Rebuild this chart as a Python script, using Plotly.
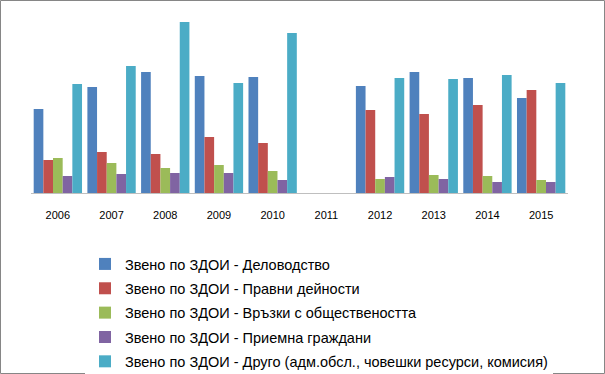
import plotly.graph_objects as go

years = ["2006", "2007", "2008", "2009", "2010", "2011", "2012", "2013", "2014", "2015"]
delovodstvo = [84, 106, 121, 117, 116, None, 107, 121, 115, 95]
pravni = [33, 41, 39, 56, 50, None, 83, 79, 88, 103]
vrazki = [35, 30, 25, 28, 22, None, 14, 18, 17, 13]
priemna = [17, 19, 20, 20, 13, None, 16, 14, 11, 11]
drugo = [109, 127, 171, 110, 160, None, 115, 114, 118, 110]

names = [
    "Звено по ЗДОИ - Деловодство",
    "Звено по ЗДОИ - Правни дейности",
    "Звено по ЗДОИ - Връзки с обществеността",
    "Звено по ЗДОИ - Приемна граждани",
    "Звено по ЗДОИ - Друго (адм.обсл., човешки ресурси, комисия)",
]
colors = ["#4F81BD", "#C0504D", "#9BBB59", "#8064A2", "#4BACC6"]
series = [delovodstvo, pravni, vrazki, priemna, drugo]

W, H = 605, 374
L, R, T, B = 31, 37, 22, 181

fig = go.Figure()
for i, (nm, vals, c) in enumerate(zip(names, series, colors)):
    fig.add_trace(go.Bar(
        x=years, y=vals, name=nm, legendgroup=str(i),
        marker=dict(color=c, line=dict(width=0)),
    ))

fig.update_layout(
    width=W, height=H,
    margin=dict(l=L, r=R, t=T, b=B, autoexpand=False),
    paper_bgcolor="white", plot_bgcolor="white",
    barmode="group", bargap=0.1, bargroupgap=0,
    font=dict(family="Liberation Sans, Arial", size=12, color="black"),
    showlegend=True,
    legend=dict(
        xref="container", yref="container",
        x=85 / W, xanchor="left",
        y=1 - 248 / H, yanchor="top",
        tracegroupgap=2.5, traceorder="grouped",
        font=dict(size=14.5, family="Liberation Sans, Arial"),
        itemwidth=30,
    ),
    xaxis=dict(
        type="category", showgrid=False, showline=True, linecolor="#BFBFBF",
        linewidth=1, ticks="", ticklabelstandoff=12,
        tickfont=dict(size=11),
    ),
    yaxis=dict(range=[0, 171], visible=False, showgrid=False),
    shapes=[dict(
        type="rect", xref="paper", yref="paper",
        x0=-(L - 0.5) / (W - L - R), x1=1 + (R - 0.5) / (W - L - R),
        y0=-(B - 0.5) / (H - T - B), y1=1 + (T - 0.5) / (H - T - B),
        line=dict(color="#868686", width=1), layer="below",
    )],
)

fig.write_html("out.html", config={"displayModeBar": False},
               post_script="document.body.style.margin='0';")
